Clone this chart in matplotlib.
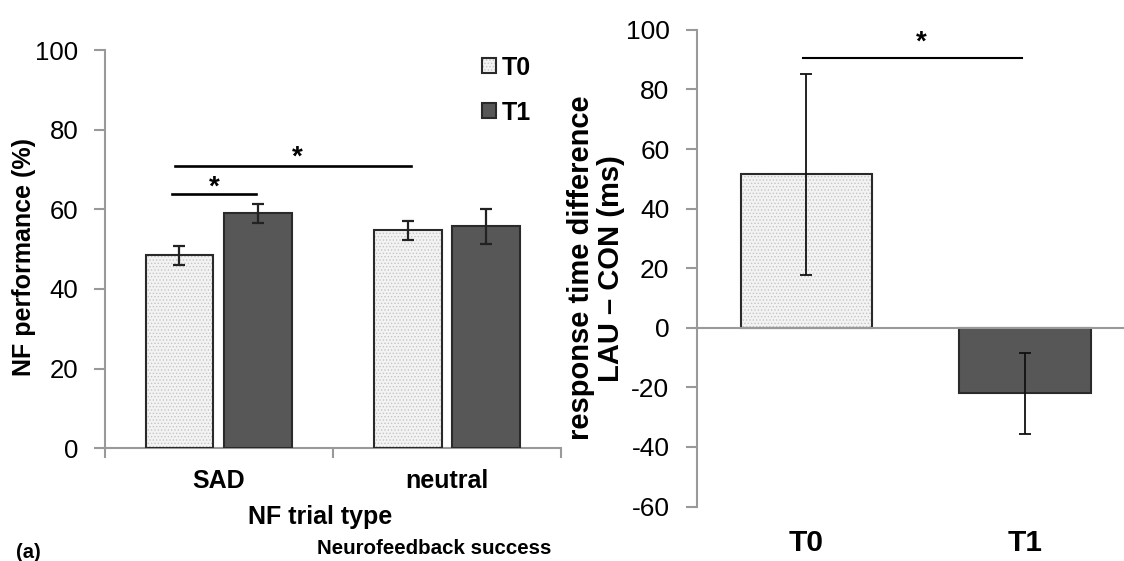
import matplotlib
matplotlib.use("Agg")
from matplotlib import pyplot as plt
from matplotlib.patches import Patch
import numpy as np

plt.rcParams['font.family'] = ['Liberation Sans', 'DejaVu Sans']
plt.rcParams['hatch.linewidth'] = 0.6
plt.rcParams['axes.unicode_minus'] = False

# left panel: NF performance (%)
trial_types = ["SAD", "neutral"]
t0_perf = [48.5, 54.7]
t0_perf_err = [2.4, 2.4]
t1_perf = [59.0, 55.7]
t1_perf_err = [2.4, 4.5]

# right panel: response time difference LAU - CON (ms)
time_points = ["T0", "T1"]
rt_diff = [51.5, -22.0]
rt_diff_err = [33.8, 13.6]

axis_col = '#999999'
t0_face = '#f3f3f3'
t0_hatch = '#c4c4c4'
t1_face = '#575757'
bar_edge = '#2a2a2a'

fig = plt.figure(figsize=(11.24, 5.61), dpi=100)

# ---------- left panel ----------
ax1 = fig.add_axes([0.0931, 0.201, 0.406, 0.7098])
x = np.arange(len(trial_types))
w = 0.297
off = 0.172

ax1.bar(x - off, t0_perf, w, color=t0_face, edgecolor=t0_hatch, hatch='.....', linewidth=0, zorder=2)
ax1.bar(x - off, t0_perf, w, fill=False, edgecolor=bar_edge, linewidth=1.5, zorder=3)
ax1.bar(x + off, t1_perf, w, color=t1_face, edgecolor=bar_edge, linewidth=1.5, zorder=3)
ax1.errorbar(x - off, t0_perf, yerr=t0_perf_err, fmt='none', ecolor='#222222', elinewidth=1.6, capsize=4, capthick=1.6, zorder=4)
ax1.errorbar(x + off, t1_perf, yerr=t1_perf_err, fmt='none', ecolor='#222222', elinewidth=1.6, capsize=4, capthick=1.6, zorder=4)

# significance markers
ax1.plot([-0.203, 0.164], [63.9, 63.9], color='black', lw=1.9)
ax1.text(-0.02, 65.5, '*', ha='center', va='center', fontsize=20, fontweight='bold')
ax1.plot([-0.192, 0.843], [70.9, 70.9], color='black', lw=1.9)
ax1.text(0.344, 73.1, '*', ha='center', va='center', fontsize=20, fontweight='bold')

ax1.set_xlim(-0.5, 1.5)
ax1.set_ylim(0, 100)
ax1.set_yticks([0, 20, 40, 60, 80, 100])
ax1.set_xticks(x)
ax1.set_xticklabels(trial_types, fontsize=18, fontweight='bold')
ax1.set_xticks([-0.5, 0.5, 1.5], minor=True)
ax1.tick_params(axis='x', which='major', length=0, pad=15)
ax1.tick_params(axis='x', which='minor', length=7, width=1.5, color=axis_col, direction='out')
ax1.tick_params(axis='y', length=8, width=1.5, color=axis_col, labelsize=18.5, pad=11)
for s in ['top', 'right']:
    ax1.spines[s].set_visible(False)
for s in ['left', 'bottom']:
    ax1.spines[s].set_color(axis_col)
    ax1.spines[s].set_linewidth(1.5)
ax1.set_ylabel('NF performance (%)', fontsize=18, fontweight='bold', va='center')
ax1.yaxis.set_label_coords(-0.177, 0.48)
ax1.set_xlabel('NF trial type', fontsize=18, fontweight='bold', va='center')
ax1.xaxis.set_label_coords(0.473, -0.172)

t0_handle = (Patch(facecolor=t0_face, edgecolor=t0_hatch, hatch='.....', linewidth=0),
             Patch(fill=False, edgecolor=bar_edge, linewidth=1.5))
t1_handle = Patch(facecolor=t1_face, edgecolor=bar_edge, linewidth=1.5)
fig.legend([t0_handle, t1_handle], ['T0', 'T1'], loc='upper left',
           bbox_to_anchor=(0.4288, 0.901), frameon=False, borderpad=0, borderaxespad=0,
           handlelength=0.55, handleheight=0.55, handletextpad=0.25, labelspacing=0.85,
           prop={'weight': 'bold', 'size': 18})

# ---------- right panel ----------
ax2 = fig.add_axes([0.6203, 0.0971, 0.3797, 0.8497])
x2 = np.arange(len(time_points))
w2 = 0.603
ax2.bar(x2[0], rt_diff[0], w2, color=t0_face, edgecolor=t0_hatch, hatch='.....', linewidth=0, zorder=2)
ax2.bar(x2[0], rt_diff[0], w2, fill=False, edgecolor=bar_edge, linewidth=1.5, zorder=3)
ax2.bar(x2[1], rt_diff[1], w2, color=t1_face, edgecolor=bar_edge, linewidth=1.5, zorder=3)
ax2.errorbar(x2, rt_diff, yerr=rt_diff_err, fmt='none', ecolor='#111111', elinewidth=1.3, capsize=4, capthick=1.3, zorder=4)
ax2.axhline(0, color=axis_col, lw=1.5, zorder=5)

ax2.plot([-0.015, 0.989], [90.4, 90.4], color='black', lw=1.5)
ax2.text(0.526, 95.8, '*', ha='center', va='center', fontsize=20, fontweight='bold')

ax2.set_xlim(-0.5, 1.454)
ax2.set_ylim(-60, 100)
ax2.set_yticks(np.arange(-60, 101, 20))
ax2.set_xticks(x2)
ax2.set_xticklabels(time_points, fontsize=21.5, fontweight='bold')
ax2.tick_params(axis='x', length=0, pad=16)
ax2.tick_params(axis='y', length=8, width=1.5, color=axis_col, labelsize=19, pad=12)
for s in ['top', 'right', 'bottom']:
    ax2.spines[s].set_visible(False)
ax2.spines['left'].set_color(axis_col)
ax2.spines['left'].set_linewidth(1.5)
ax2.set_ylabel('response time difference\nLAU \u2013 CON (ms)', fontsize=21, fontweight='bold',
               linespacing=1.1, va='center')
ax2.yaxis.set_label_coords(-0.2376, 0.5)

fig.text(16 / 1124, 1 - 552 / 561, '(a)', fontsize=14.5, fontweight='bold', ha='left', va='center')
fig.text(317 / 1124, 1 - 548 / 561, 'Neurofeedback success', fontsize=14.8, fontweight='bold', ha='left', va='center')

fig.savefig('out.png', dpi=100)
